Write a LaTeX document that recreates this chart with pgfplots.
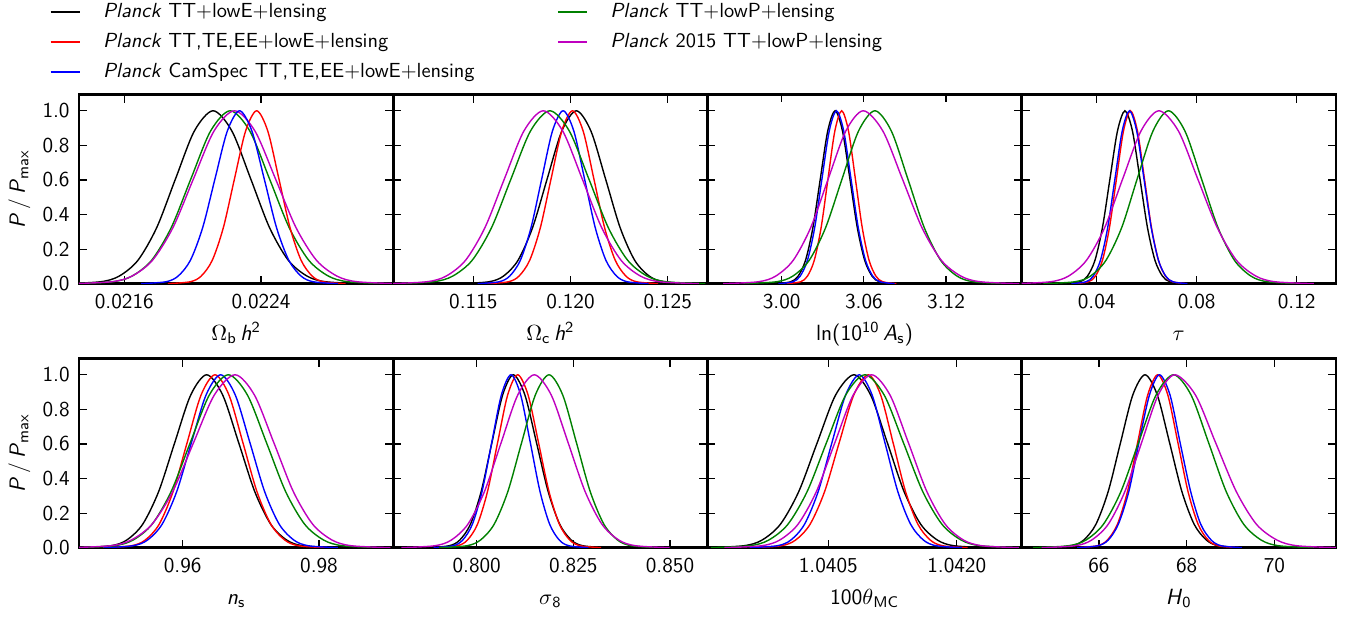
\documentclass[border=0pt]{standalone}
\usepackage{fontspec}
\renewcommand{\familydefault}{\sfdefault}
\usepackage{pgfplots}
\usepackage{pgfplotstable}
\pgfplotsset{compat=1.18}
\definecolor{mplgreen}{rgb}{0,0.5,0}
\definecolor{mplmag}{rgb}{0.75,0,0.75}
\newcommand\tickfont{\fontsize{10.6}{12}\selectfont}
\newcommand\labfont{\fontsize{11}{13}\selectfont}
\newcommand\legfont{\fontsize{10.2}{12}\selectfont}

% Omega_b h^2
\pgfplotstableread{
y K R B G M
0.0003 0.021240 0.021855 0.021699 0.021300 0.021285
0.0111 0.021460 0.021985 0.021843 0.021530 0.021525
0.0439 0.021570 0.022050 0.021915 0.021645 0.021645
0.1353 0.021680 0.022115 0.021987 0.021760 0.021765
0.3247 0.021790 0.022180 0.022059 0.021875 0.021885
0.6065 0.021900 0.022245 0.022131 0.021990 0.022005
0.8825 0.022010 0.022310 0.022203 0.022105 0.022125
1.0000 0.022120 0.022375 0.022275 0.022220 0.022245
0.8825 0.022230 0.022440 0.022347 0.022335 0.022365
0.6065 0.022340 0.022505 0.022419 0.022450 0.022485
0.3247 0.022450 0.022570 0.022491 0.022565 0.022605
0.1353 0.022560 0.022635 0.022563 0.022680 0.022725
0.0439 0.022670 0.022700 0.022635 0.022795 0.022845
0.0111 0.022780 0.022765 0.022707 0.022910 0.022965
0.0003 0.023000 0.022895 0.022851 0.023140 0.023205
}\tabA
% Omega_c h^2
\pgfplotstableread{
y K R B G M
0.0003 0.11430 0.11570 0.11522 0.11094 0.11060
0.0111 0.11580 0.11680 0.11632 0.11294 0.11260
0.0439 0.11655 0.11735 0.11687 0.11394 0.11360
0.1353 0.11730 0.11790 0.11742 0.11494 0.11460
0.3247 0.11805 0.11845 0.11797 0.11594 0.11560
0.6065 0.11880 0.11900 0.11852 0.11694 0.11660
0.8825 0.11955 0.11955 0.11907 0.11794 0.11760
1.0000 0.12030 0.12010 0.11962 0.11894 0.11860
0.8825 0.12105 0.12065 0.12017 0.11994 0.11960
0.6065 0.12180 0.12120 0.12072 0.12094 0.12060
0.3247 0.12255 0.12175 0.12127 0.12194 0.12160
0.1353 0.12330 0.12230 0.12182 0.12294 0.12260
0.0439 0.12405 0.12285 0.12237 0.12394 0.12360
0.0111 0.12480 0.12340 0.12292 0.12494 0.12460
0.0003 0.12630 0.12450 0.12402 0.12694 0.12660
}\tabB
% ln(10^10 A_s)
\pgfplotstableread{
y K R B G M
0.0003 2.9958 3.0038 2.9976 2.9721 2.9572
0.0111 3.0066 3.0138 3.0082 2.9961 2.9828
0.0439 3.0120 3.0188 3.0135 3.0081 2.9956
0.1353 3.0174 3.0238 3.0188 3.0201 3.0084
0.3247 3.0228 3.0288 3.0241 3.0321 3.0212
0.6065 3.0282 3.0338 3.0294 3.0441 3.0340
0.8825 3.0336 3.0388 3.0347 3.0561 3.0468
1.0000 3.0390 3.0438 3.0400 3.0681 3.0596
0.8825 3.0444 3.0488 3.0453 3.0801 3.0739
0.6065 3.0498 3.0538 3.0506 3.0921 3.0881
0.3247 3.0552 3.0588 3.0559 3.1041 3.1024
0.1353 3.0606 3.0638 3.0612 3.1161 3.1166
0.0439 3.0660 3.0688 3.0665 3.1281 3.1309
0.0111 3.0714 3.0738 3.0718 3.1401 3.1451
0.0003 3.0822 3.0838 3.0824 3.1641 3.1736
}\tabC
% tau
\pgfplotstableread{
y K R B G M
0.0003 0.0273 0.0311 0.0299 0.0187 0.0069
0.0111 0.0333 0.0367 0.0357 0.0312 0.0214
0.0439 0.0363 0.0395 0.0386 0.0375 0.0287
0.1353 0.0393 0.0423 0.0415 0.0437 0.0359
0.3247 0.0423 0.0451 0.0444 0.0500 0.0432
0.6065 0.0453 0.0479 0.0473 0.0562 0.0504
0.8825 0.0483 0.0507 0.0502 0.0625 0.0577
1.0000 0.0513 0.0535 0.0531 0.0687 0.0649
0.8825 0.0543 0.0563 0.0560 0.0753 0.0727
0.6065 0.0573 0.0591 0.0589 0.0819 0.0804
0.3247 0.0603 0.0619 0.0618 0.0885 0.0882
0.1353 0.0633 0.0647 0.0647 0.0951 0.0959
0.0439 0.0663 0.0675 0.0676 0.1017 0.1037
0.0111 0.0693 0.0703 0.0705 0.1083 0.1114
0.0003 0.0753 0.0759 0.0763 0.1215 0.1269
}\tabD
% n_s
\pgfplotstableread{
y K R B G M
0.0003 0.94472 0.94834 0.94837 0.94430 0.94328
0.0111 0.94942 0.95244 0.95267 0.94990 0.94938
0.0439 0.95177 0.95449 0.95482 0.95270 0.95243
0.1353 0.95412 0.95654 0.95697 0.95550 0.95548
0.3247 0.95647 0.95859 0.95912 0.95830 0.95853
0.6065 0.95882 0.96064 0.96127 0.96110 0.96158
0.8825 0.96117 0.96269 0.96342 0.96390 0.96463
1.0000 0.96352 0.96474 0.96557 0.96670 0.96768
0.8825 0.96587 0.96679 0.96772 0.96950 0.97053
0.6065 0.96822 0.96884 0.96987 0.97230 0.97338
0.3247 0.97057 0.97089 0.97202 0.97510 0.97623
0.1353 0.97292 0.97294 0.97417 0.97790 0.97908
0.0439 0.97527 0.97499 0.97632 0.98070 0.98193
0.0111 0.97762 0.97704 0.97847 0.98350 0.98478
0.0003 0.98232 0.98114 0.98277 0.98910 0.99048
}\tabE
% sigma_8
\pgfplotstableread{
y K R B G M
0.0003 0.78728 0.78980 0.78888 0.79031 0.78051
0.0111 0.79283 0.79500 0.79388 0.79741 0.78911
0.0439 0.79561 0.79760 0.79638 0.80096 0.79341
0.1353 0.79838 0.80020 0.79888 0.80451 0.79771
0.3247 0.80116 0.80280 0.80138 0.80806 0.80201
0.6065 0.80393 0.80540 0.80388 0.81161 0.80631
0.8825 0.80671 0.80800 0.80638 0.81516 0.81061
1.0000 0.80948 0.81060 0.80888 0.81871 0.81491
0.8825 0.81248 0.81330 0.81138 0.82226 0.81929
0.6065 0.81548 0.81600 0.81388 0.82581 0.82366
0.3247 0.81848 0.81870 0.81638 0.82936 0.82804
0.1353 0.82148 0.82140 0.81888 0.83291 0.83241
0.0439 0.82448 0.82410 0.82138 0.83646 0.83679
0.0111 0.82748 0.82680 0.82388 0.84001 0.84116
0.0003 0.83348 0.83220 0.82888 0.84711 0.84991
}\tabF
% 100 theta_MC
\pgfplotstableread{
y K R B G M
0.0003 1.039080 1.039607 1.039582 1.039128 1.039286
0.0111 1.039510 1.039947 1.039902 1.039578 1.039716
0.0439 1.039725 1.040117 1.040062 1.039803 1.039931
0.1353 1.039940 1.040287 1.040222 1.040028 1.040146
0.3247 1.040155 1.040457 1.040382 1.040253 1.040361
0.6065 1.040370 1.040627 1.040542 1.040478 1.040576
0.8825 1.040585 1.040797 1.040702 1.040703 1.040791
1.0000 1.040800 1.040967 1.040862 1.040928 1.041006
0.8825 1.040995 1.041112 1.041012 1.041153 1.041221
0.6065 1.041190 1.041257 1.041162 1.041378 1.041436
0.3247 1.041385 1.041402 1.041312 1.041603 1.041651
0.1353 1.041580 1.041547 1.041462 1.041828 1.041866
0.0439 1.041775 1.041692 1.041612 1.042053 1.042081
0.0111 1.041970 1.041837 1.041762 1.042278 1.042296
0.0003 1.042360 1.042127 1.042062 1.042728 1.042726
}\tabG
% H_0
\pgfplotstableread{
y K R B G M
0.0003 64.81 65.50 65.50 64.50 64.69
0.0111 65.37 65.96 65.97 65.30 65.45
0.0439 65.65 66.19 66.21 65.70 65.83
0.1353 65.93 66.42 66.44 66.10 66.21
0.3247 66.21 66.65 66.68 66.50 66.59
0.6065 66.49 66.88 66.91 66.90 66.97
0.8825 66.77 67.11 67.15 67.30 67.35
1.0000 67.05 67.34 67.38 67.70 67.73
0.8825 67.33 67.57 67.62 68.10 68.20
0.6065 67.61 67.80 67.85 68.50 68.66
0.3247 67.89 68.03 68.09 68.90 69.13
0.1353 68.17 68.26 68.32 69.30 69.59
0.0439 68.45 68.49 68.56 69.70 70.06
0.0111 68.73 68.72 68.79 70.10 70.52
0.0003 69.29 69.18 69.26 70.90 71.45
}\tabH

\newcommand\curves[1]{%
  \addplot[black,forget plot] table[x=K,y=y]{#1};
  \addplot[red,forget plot] table[x=R,y=y]{#1};
  \addplot[blue,forget plot] table[x=B,y=y]{#1};
  \addplot[mplgreen,forget plot] table[x=G,y=y]{#1};
  \addplot[mplmag,forget plot] table[x=M,y=y]{#1};
}

\pgfplotsset{
  panel/.style={
    scale only axis, width=157.1pt, height=94.6pt,
    anchor=south west,
    ymin=0, ymax=1.094,
    ytick={0,0.2,0.4,0.6,0.8,1.0},
    yticklabel={\mbox{}},
    scaled x ticks=false, scaled y ticks=false,
    tick align=inside,
    major tick length=4pt,
    every tick/.style={black, line width=0.6pt},
    axis line style={line width=1.3pt},
    xticklabel style={anchor=base, yshift=-12.55pt, inner sep=0pt, font=\tickfont},
    yticklabel style={anchor=east, xshift=-4.5pt, inner sep=0pt, font=\tickfont},
    xlabel style={at={(axis description cs:0.5,0)}, anchor=base, yshift=-28.4pt, inner sep=0pt, font=\labfont},
    ylabel style={at={(axis description cs:-0.1719,0.5)}, anchor=base, inner sep=0pt, font=\labfont},
    every axis plot/.append style={line width=0.7pt, smooth},
  },
  firstcol/.style={
    yticklabels={0.0,0.2,0.4,0.6,0.8,1.0},
    ylabel={\textit{P}\,/\,\textit{P}\textsubscript{max}},
  },
}

\begin{document}
\begin{tikzpicture}
\path[use as bounding box] (0pt,0pt) rectangle (677pt,308.5pt);

% ---------- top row ----------
\begin{axis}[panel, firstcol, at={(39.5pt,166.65pt)},
  xmin=0.021335, xmax=0.023174,
  xtick={0.0216,0.0224}, xticklabels={0.0216,0.0224},
  xlabel={$\Omega$\textsubscript{b}\,\textit{h}\textsuperscript{2}},
  legend columns=2,
  legend cell align=left,
  legend image code/.code={\draw[#1,line width=0.75pt] (0pt,2.75pt) -- (14.5pt,2.75pt);},
  legend style={at={(axis description cs:-0.0923,1.482)}, anchor=north west,
    draw=none, fill=none, inner sep=0pt, outer sep=0pt,
    row sep=6pt, column sep=0pt, font=\legfont,
    nodes={inner sep=0pt, text height=7pt, text depth=2pt, anchor=base west},
    /tikz/every odd column/.append style={column sep=11.35pt},
    /tikz/every even column/.append style={column sep=41.3pt}},
]
\addplot[black] table[x=K,y=y]{\tabA};
\addlegendentry{\textit{Planck} TT+lowE+lensing}
\addplot[mplgreen] table[x=G,y=y]{\tabA};
\addlegendentry{\textit{Planck} TT+lowP+lensing}
\addplot[red] table[x=R,y=y]{\tabA};
\addlegendentry{\textit{Planck} TT,TE,EE+lowE+lensing}
\addplot[mplmag] table[x=M,y=y]{\tabA};
\addlegendentry{\textit{Planck} 2015 TT+lowP+lensing}
\addplot[blue] table[x=B,y=y]{\tabA};
\addlegendentry{\textit{Planck} CamSpec TT,TE,EE+lowE+lensing}
\end{axis}

\begin{axis}[panel, at={(196.6pt,166.65pt)},
  xmin=0.11088, xmax=0.12704,
  xtick={0.115,0.120,0.125}, xticklabels={0.115,0.120,0.125},
  xlabel={$\Omega$\textsubscript{c}\,\textit{h}\textsuperscript{2}},
]
\curves{\tabB}
\end{axis}

\begin{axis}[panel, at={(353.7pt,166.65pt)},
  xmin=2.94573, xmax=3.17522,
  xtick={3.00,3.06,3.12}, xticklabels={3.00,3.06,3.12},
  xlabel={ln(10\textsuperscript{10}\,\textit{A}\textsubscript{s})},
]
\curves{\tabC}
\end{axis}

\begin{axis}[panel, at={(510.8pt,166.65pt)},
  xmin=0.00996, xmax=0.13564,
  xtick={0.04,0.08,0.12}, xticklabels={0.04,0.08,0.12},
  xlabel={$\tau$},
]
\curves{\tabD}
\end{axis}

% ---------- bottom row ----------
\begin{axis}[panel, firstcol, at={(39.5pt,34.65pt)},
  xmin=0.94478, xmax=0.99089,
  xtick={0.96,0.98}, xticklabels={0.96,0.98},
  xlabel={\textit{n}\textsubscript{s}},
]
\curves{\tabE}
\end{axis}

\begin{axis}[panel, at={(196.6pt,34.65pt)},
  xmin=0.77841, xmax=0.85967,
  xtick={0.800,0.825,0.850}, xticklabels={0.800,0.825,0.850},
  xlabel={$\sigma$\textsubscript{8}},
]
\curves{\tabF}
\end{axis}

\begin{axis}[panel, at={(353.7pt,34.65pt)},
  xmin=1.039088, xmax=1.042758,
  xtick={1.0405,1.0420}, xticklabels={1.0405,1.0420},
  xlabel={100$\theta$\textsubscript{MC}},
]
\curves{\tabG}
\end{axis}

\begin{axis}[panel, at={(510.8pt,34.65pt)},
  xmin=64.236, xmax=71.399,
  xtick={66,68,70}, xticklabels={66,68,70},
  xlabel={\textit{H}\textsubscript{0}},
]
\curves{\tabH}
\end{axis}
\end{tikzpicture}
\end{document}
